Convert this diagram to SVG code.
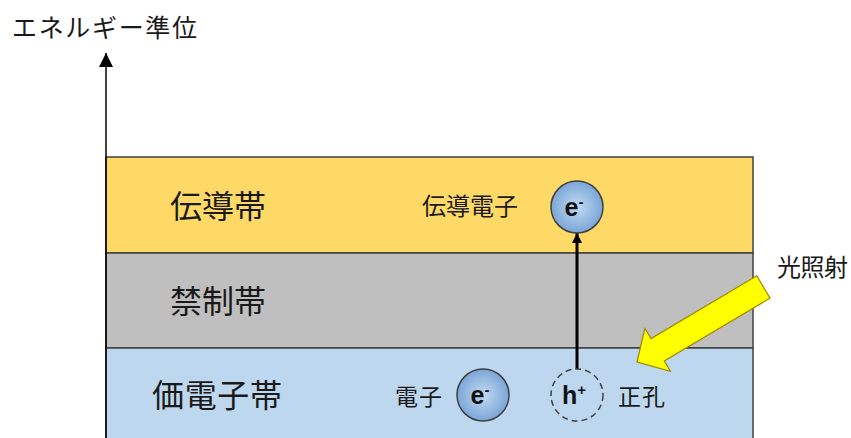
<svg xmlns="http://www.w3.org/2000/svg" width="851" height="438" viewBox="0 0 851 438">
<style>
.jp{font-family:"Noto Sans CJK JP","Noto Sans",sans-serif;fill:#1a1a1a}
.band{stroke:#404040;stroke-width:1.5}
.sym{font-family:"Liberation Sans",Arial,sans-serif;font-weight:bold;font-size:25px;fill:#111}
.sup{font-size:15px}
.ball{fill:url(#g);stroke:#404040;stroke-width:1.5}
</style>
<defs>
<radialGradient id="g" cx="50%" cy="50%" r="50%">
<stop offset="0" stop-color="#c4dbf2"/>
<stop offset="1" stop-color="#7aa6d8"/>
</radialGradient>
<marker id="ah" markerWidth="10" markerHeight="10" refX="10" refY="5" orient="auto" markerUnits="userSpaceOnUse" viewBox="0 0 10 10">
<path d="M0,0 L10,5 L0,10 z" fill="#000"/>
</marker>
<marker id="ah2" markerWidth="14" markerHeight="14" refX="14" refY="7" orient="auto" markerUnits="userSpaceOnUse" viewBox="0 0 14 14">
<path d="M0,0 L14,7 L0,14 z" fill="#000"/>
</marker>
</defs>
<rect width="851" height="438" fill="#fff"/>
<g id="bands">
<rect id="conduction" class="band" x="106" y="157" width="647" height="96" fill="#FFD966"/>
<rect id="forbidden" class="band" x="106" y="253" width="647" height="95" fill="#BFBFBF"/>
<rect id="valence" class="band" x="106" y="348" width="647" height="100" fill="#BDD7EE"/>
</g>
<g id="connectors">
<line x1="106" y1="440" x2="106" y2="53" stroke="#000" stroke-width="1.5" marker-end="url(#ah2)"/>
<line x1="577" y1="369" x2="577" y2="233" stroke="#000" stroke-width="3" marker-end="url(#ah)"/>
</g>
<g id="labels">
<text class="jp" x="12" y="37" font-size="25" textLength="185">エネルギー準位</text>
<text class="jp" x="170" y="218" font-size="32" textLength="96">伝導帯</text>
<text class="jp" x="170" y="313" font-size="32" textLength="96">禁制帯</text>
<text class="jp" x="152" y="407" font-size="32" textLength="130">価電子帯</text>
</g>
<g id="cb-electron">
<text class="jp" x="422" y="215" font-size="24" textLength="96">伝導電子</text>
<circle class="ball" cx="577" cy="207" r="26"/>
<text class="sym" x="574" y="216" text-anchor="middle">e<tspan class="sup" dy="-9">-</tspan></text>
</g>
<g id="vb-electron">
<text class="jp" x="395" y="405" font-size="23" textLength="47">電子</text>
<circle class="ball" cx="483" cy="395" r="26"/>
<text class="sym" x="480" y="404" text-anchor="middle">e<tspan class="sup" dy="-9">-</tspan></text>
</g>
<g id="hole">
<circle cx="577" cy="395" r="26" fill="none" stroke="#404040" stroke-width="1.5" stroke-dasharray="6,4"/>
<text class="sym" x="574" y="404" text-anchor="middle">h<tspan class="sup" dy="-9">+</tspan></text>
<text class="jp" x="618" y="405" font-size="23" textLength="47">正孔</text>
</g>
<g id="light">
<polygon transform="translate(637,362) rotate(-30.7)" points="0,0 24,-25 24,-13 147,-13 147,13 24,13 24,25" fill="#FFFF00" stroke="#9c8a00" stroke-width="1.2" stroke-linejoin="miter"/>
<text class="jp" x="777" y="276" font-size="24" textLength="71">光照射</text>
</g>
</svg>
